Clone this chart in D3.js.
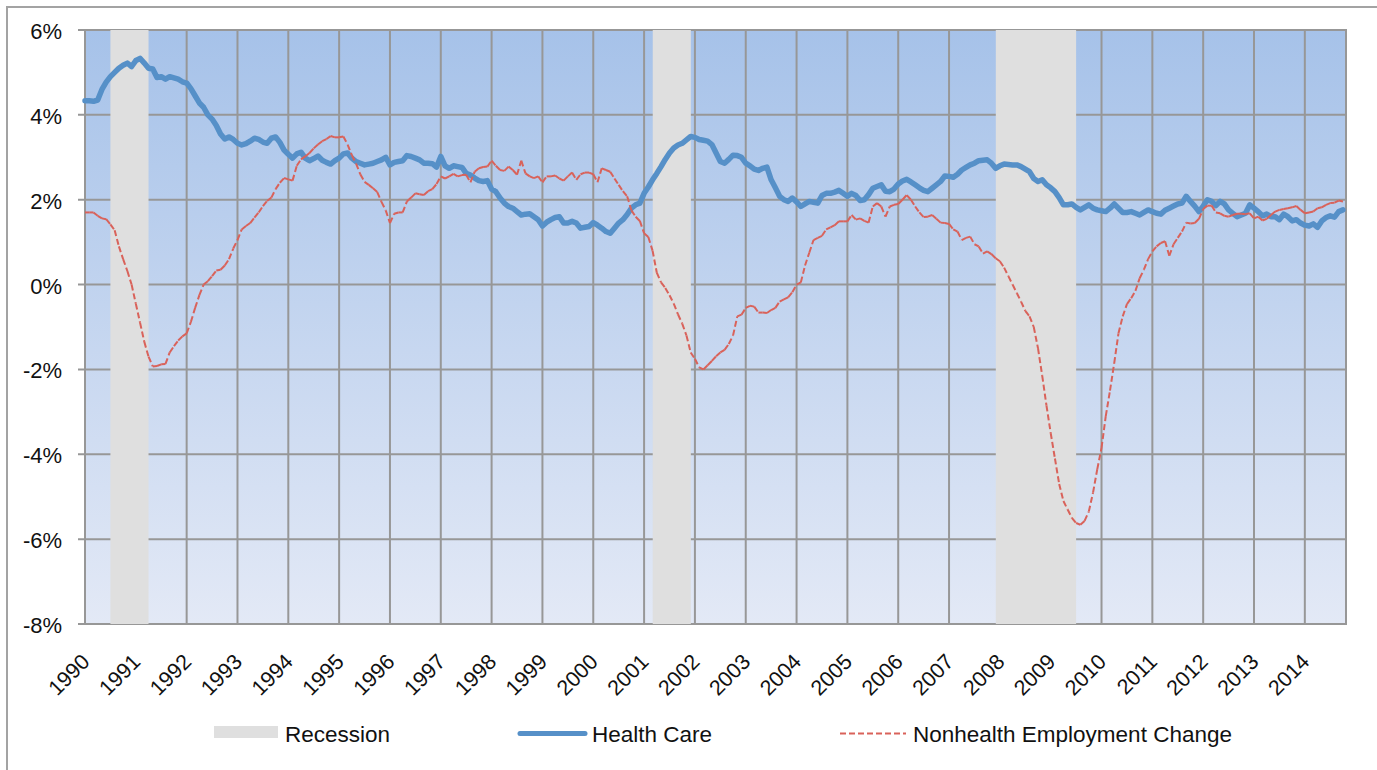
<!DOCTYPE html>
<html><head><meta charset="utf-8">
<script src="https://cdn.jsdelivr.net/npm/d3@7"></script>
<style>body{margin:0;background:#fff;} svg{display:block;font-family:"Liberation Sans",Arial,sans-serif;}</style>
</head><body><svg id="c" width="1377" height="770"></svg>
<script>
const yearLabels = ["1990","1991","1992","1993","1994","1995","1996","1997","1998","1999","2000","2001","2002","2003","2004","2005","2006","2007","2008","2009","2010","2011","2012","2013","2014"];
const yTicks = [-8,-6,-4,-2,0,2,4,6];
const recessionStarts = [1990.5, 2001.17, 2007.92];
const recessionEnds = [1991.25, 2001.92, 2009.5];
const seriesNames = ["Recession","Health Care","Nonhealth Employment Change"];
// monthly values, Jan 1990 .. Oct 2014
const hcValues = [
4.33,4.33,4.32,4.35,4.6,4.77,4.9,5.0,5.1,5.17,5.22,5.14,
5.28,5.33,5.22,5.1,5.08,4.88,4.9,4.84,4.9,4.87,4.84,4.78,
4.75,4.62,4.45,4.28,4.18,4.0,3.9,3.75,3.55,3.43,3.48,3.42,
3.33,3.29,3.32,3.38,3.45,3.42,3.36,3.33,3.45,3.48,3.35,3.17,
3.07,2.98,3.08,3.12,2.98,2.92,2.97,3.03,2.93,2.88,2.84,2.92,
2.98,3.08,3.1,2.98,2.9,2.86,2.82,2.84,2.86,2.9,2.94,3.0,
2.82,2.88,2.9,2.92,3.04,3.02,2.98,2.94,2.86,2.86,2.85,2.77,
3.02,2.8,2.74,2.8,2.78,2.76,2.62,2.58,2.51,2.45,2.43,2.45,
2.25,2.19,2.04,1.92,1.84,1.8,1.72,1.64,1.66,1.67,1.6,1.53,
1.38,1.47,1.53,1.58,1.6,1.45,1.45,1.49,1.45,1.33,1.35,1.37,
1.46,1.4,1.33,1.25,1.21,1.33,1.45,1.53,1.65,1.8,1.88,1.92,
2.15,2.3,2.47,2.62,2.78,2.95,3.1,3.22,3.29,3.33,3.41,3.49,
3.47,3.42,3.4,3.38,3.3,3.1,2.9,2.86,2.95,3.05,3.04,3.0,
2.86,2.8,2.72,2.69,2.74,2.77,2.47,2.28,2.08,2.0,1.96,2.04,
1.95,1.84,1.9,1.96,1.94,1.92,2.1,2.15,2.15,2.18,2.22,2.15,
2.08,2.15,2.1,1.98,2.0,2.12,2.27,2.31,2.35,2.2,2.19,2.25,
2.37,2.44,2.48,2.42,2.35,2.28,2.22,2.19,2.27,2.35,2.43,2.56,
2.55,2.53,2.6,2.7,2.76,2.82,2.86,2.92,2.93,2.94,2.86,2.74,
2.8,2.84,2.83,2.82,2.82,2.78,2.72,2.66,2.5,2.43,2.47,2.35,
2.28,2.19,2.05,1.88,1.88,1.9,1.82,1.76,1.82,1.88,1.8,1.76,
1.74,1.72,1.8,1.9,1.8,1.7,1.7,1.72,1.68,1.64,1.7,1.76,
1.72,1.68,1.66,1.75,1.8,1.85,1.9,1.92,2.08,1.96,1.85,1.72,
1.85,2.0,1.96,1.86,1.96,1.9,1.76,1.68,1.6,1.64,1.68,1.88,
1.8,1.72,1.62,1.66,1.6,1.6,1.53,1.66,1.6,1.5,1.53,1.45,
1.4,1.38,1.43,1.35,1.5,1.58,1.62,1.59,1.72,1.76];
const nhValues = [
1.7,1.7,1.7,1.62,1.56,1.54,1.42,1.28,0.9,0.6,0.32,0.0,
-0.45,-0.9,-1.35,-1.7,-1.93,-1.92,-1.88,-1.87,-1.6,-1.45,-1.32,-1.22,
-1.15,-0.88,-0.55,-0.25,0.0,0.08,0.2,0.33,0.35,0.45,0.6,0.85,
1.05,1.3,1.38,1.45,1.58,1.7,1.85,1.97,2.05,2.25,2.4,2.51,
2.48,2.45,2.8,2.95,3.02,3.1,3.21,3.3,3.38,3.43,3.5,3.47,
3.47,3.49,3.3,3.05,2.85,2.6,2.42,2.35,2.27,2.18,1.95,1.75,
1.45,1.67,1.7,1.7,1.96,2.05,2.15,2.13,2.11,2.2,2.25,2.37,
2.55,2.5,2.55,2.61,2.55,2.58,2.59,2.41,2.66,2.74,2.77,2.78,
2.92,2.8,2.7,2.68,2.78,2.7,2.59,2.92,2.62,2.55,2.51,2.55,
2.41,2.55,2.55,2.57,2.5,2.45,2.55,2.64,2.47,2.6,2.64,2.64,
2.6,2.41,2.74,2.7,2.66,2.5,2.35,2.2,2.08,1.75,1.6,1.5,
1.21,1.12,0.8,0.28,0.05,-0.08,-0.25,-0.45,-0.7,-0.92,-1.2,-1.6,
-1.75,-1.95,-2.0,-1.9,-1.8,-1.69,-1.6,-1.54,-1.4,-1.2,-0.75,-0.71,
-0.55,-0.5,-0.52,-0.66,-0.66,-0.67,-0.6,-0.55,-0.4,-0.35,-0.3,-0.18,
0.0,0.05,0.45,0.75,1.05,1.1,1.15,1.3,1.35,1.4,1.49,1.49,
1.49,1.64,1.53,1.56,1.5,1.46,1.84,1.92,1.84,1.6,1.84,1.88,
1.9,2.0,2.11,2.0,1.84,1.7,1.59,1.6,1.64,1.55,1.46,1.45,
1.43,1.3,1.25,1.05,1.1,1.13,0.95,0.9,0.73,0.78,0.72,0.62,
0.55,0.4,0.2,0.0,-0.2,-0.4,-0.62,-0.75,-1.0,-1.5,-2.15,-2.85,
-3.5,-4.1,-4.7,-5.1,-5.3,-5.5,-5.62,-5.66,-5.57,-5.35,-4.9,-4.35,
-3.85,-3.1,-2.5,-1.85,-1.15,-0.75,-0.46,-0.32,-0.15,0.15,0.35,0.6,
0.78,0.9,0.98,1.02,0.68,0.95,1.1,1.25,1.46,1.44,1.45,1.55,
1.78,1.86,1.86,1.7,1.68,1.62,1.6,1.64,1.67,1.67,1.66,1.68,
1.56,1.6,1.51,1.55,1.64,1.72,1.76,1.78,1.8,1.82,1.85,1.76,
1.68,1.7,1.72,1.8,1.82,1.88,1.92,1.93,1.98,1.96];

const startYear = 1990;
const svg = d3.select("#c");
const mLeft = 85, mTop = 30, W = 1261, H = 594;

// outer frame
svg.append("rect").attr("x",7).attr("y",7).attr("width",1400).attr("height",800)
  .attr("fill","#fff").attr("stroke","#a3a3a3").attr("stroke-width",2);

const x = d3.scaleLinear().domain([startYear, startYear + 24.81]).range([0, W]);
const y = d3.scaleLinear().domain([-8, 6]).range([H, 0]);

const defs = svg.append("defs");
const grad = defs.append("linearGradient").attr("id","bg").attr("x1",0).attr("y1",0).attr("x2",0).attr("y2",1);
grad.append("stop").attr("offset","0%").attr("stop-color","#a6c2e9");
grad.append("stop").attr("offset","100%").attr("stop-color","#e3e9f6");

const g = svg.append("g").attr("transform",`translate(${mLeft},${mTop})`);
g.append("rect").attr("width",W).attr("height",H).attr("fill","url(#bg)");

// gridlines
const gridColor = "#979797";
g.selectAll(".hg").data(yTicks).enter().append("line")
  .attr("x1",-7).attr("x2",W).attr("y1",d=>y(d)).attr("y2",d=>y(d))
  .attr("stroke",gridColor).attr("stroke-width",2);
g.selectAll(".vg").data(yearLabels).enter().append("line")
  .attr("x1",d=>x(+d)).attr("x2",d=>x(+d)).attr("y1",0).attr("y2",H)
  .attr("stroke",gridColor).attr("stroke-width",2);
g.append("line").attr("x1",W).attr("x2",W).attr("y1",-1).attr("y2",H+1)
  .attr("stroke",gridColor).attr("stroke-width",2);

// recessions
g.selectAll(".rec").data(recessionStarts).enter().append("rect")
  .attr("x",d=>x(d)).attr("width",(d,i)=>x(recessionEnds[i])-x(d))
  .attr("y",0).attr("height",H).attr("fill","#dfdfdf");

// y labels
g.selectAll(".yl").data(yTicks).enter().append("text")
  .attr("x",-23).attr("y",d=>y(d)+9).attr("text-anchor","end")
  .attr("font-size",22).attr("fill","#111").text(d=>d+"%");

// x labels
g.selectAll(".xl").data(yearLabels).enter().append("text")
  .attr("text-anchor","end").attr("font-size",21.5).attr("fill","#111")
  .attr("transform",d=>`translate(${x(+d)+6},${633}) rotate(-45)`)
  .text(d=>d);

const px = i => x(startYear + i/12);

// health care
const line = d3.line().x((d,i)=>px(i)).y(d=>y(d));
g.append("path").datum(hcValues).attr("d",line).attr("fill","none")
  .attr("stroke","#5690c8").attr("stroke-width",5.5).attr("stroke-linejoin","round").attr("stroke-linecap","round");

// nonhealth: dash pattern restarts at every monthly segment
const segs = d3.pairs(nhValues.map((v,i)=>[i,v]));
g.selectAll(".nh").data(segs).enter().append("line")
  .attr("x1",d=>px(d[0][0])).attr("y1",d=>y(d[0][1]))
  .attr("x2",d=>px(d[1][0])).attr("y2",d=>y(d[1][1]))
  .attr("stroke","#d9625a").attr("stroke-width",2).attr("stroke-dasharray","6,3");

// legend
const lg = svg.append("g");
lg.append("rect").attr("x",214).attr("y",726).attr("width",64).attr("height",12).attr("fill","#dfdfdf");
lg.append("text").attr("x",285).attr("y",742).attr("font-size",22.5).attr("fill","#111").text(seriesNames[0]);
lg.append("line").attr("x1",520).attr("x2",585).attr("y1",733.5).attr("y2",733.5)
  .attr("stroke","#5690c8").attr("stroke-width",5).attr("stroke-linecap","round");
lg.append("text").attr("x",592).attr("y",742).attr("font-size",22.5).attr("fill","#111").text(seriesNames[1]);
lg.append("line").attr("x1",840).attr("x2",906).attr("y1",733.5).attr("y2",733.5)
  .attr("stroke","#d9625a").attr("stroke-width",2).attr("stroke-dasharray","6,3");
lg.append("text").attr("x",913).attr("y",742).attr("font-size",22.5).attr("fill","#111").text(seriesNames[2]);
</script></body></html>
